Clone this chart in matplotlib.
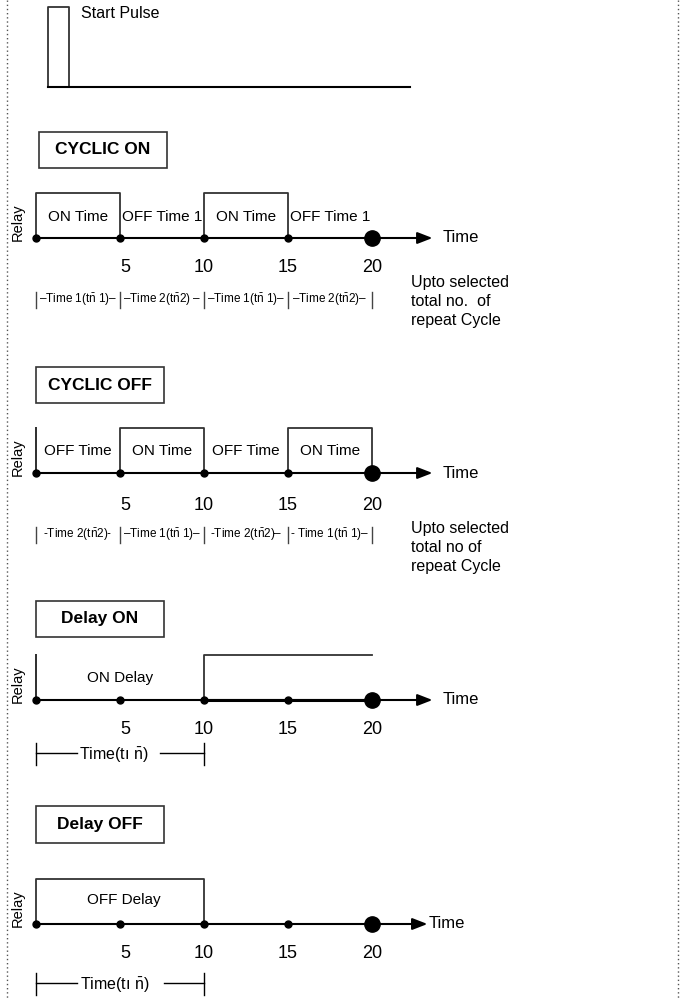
import matplotlib.pyplot as plt
from matplotlib.patches import Rectangle

plt.rcParams['font.family'] = ['Liberation Sans', 'DejaVu Sans']
plt.rcParams['mathtext.fontset'] = 'custom'
plt.rcParams['mathtext.rm'] = 'Liberation Sans'
plt.rcParams['mathtext.default'] = 'regular'

W, H = 692, 1000
PX_PER_T = 16.8      # pixels per time unit
PX_PER_LEVEL = 45.0  # pixels per relay level
T0_PX = 36           # pixel position of t = 0

ticks = [0, 5, 10, 15, 20]
tick_labels = ['', '5', '10', '15', '20']
NB = r'$\bar{n}$'

# relay waveforms (time, level)
cyclic_on_t = [0, 0, 5, 5, 10, 10, 15, 15, 20]
cyclic_on_y = [0, 1, 1, 0, 0, 1, 1, 0, 0]
cyclic_on_labels = ['ON Time', 'OFF Time 1', 'ON Time', 'OFF Time 1']
cyclic_on_spans = ['\u2013Time 1(t' + NB + ' 1)\u2013', '\u2013Time 2(t' + NB + '2) \u2013',
                   '\u2013Time 1(t' + NB + ' 1)\u2013', '\u2013Time 2(t' + NB + '2)\u2013']

cyclic_off_t = [0, 0, 0, 5, 5, 10, 10, 15, 15, 20, 20]
cyclic_off_y = [0, 1, 0, 0, 1, 1, 0, 0, 1, 1, 0]
cyclic_off_labels = ['OFF Time', 'ON Time', 'OFF Time', 'ON Time']
cyclic_off_spans = ['-Time 2(t' + NB + '2)-', '\u2013Time 1(t' + NB + ' 1)\u2013',
                    '-Time 2(t' + NB + '2)\u2013', '- Time 1(t' + NB + ' 1)\u2013']

delay_on_t = [0, 0, 0, 10, 10, 20]
delay_on_y = [0, 1, 0, 0, 1, 1]

delay_off_t = [0, 0, 10, 10]
delay_off_y = [0, 1, 1, 0]

start_t = [0.7, 0.7, 1.96, 1.96]
start_y = [0, 1.78, 1.78, 0]

fig = plt.figure(figsize=(W / 100, H / 100), dpi=100)

# dotted page border
border = fig.add_axes([0, 0, 1, 1])
border.set_xlim(0, W)
border.set_ylim(H, 0)
border.axis('off')
border.plot([7, 7], [0, H], color='#555555', lw=1, ls=(0, (1, 2)))
border.plot([678, 678], [0, H], color='#555555', lw=1, ls=(0, (1, 2)))


def panel(base_px):
    span = 130
    ax = fig.add_axes([0, 1 - (base_px + span) / H, 1, 2 * span / H])
    ax.set_xlim(-T0_PX / PX_PER_T, (W - T0_PX) / PX_PER_T)
    ax.set_ylim(-span / PX_PER_LEVEL, span / PX_PER_LEVEL)
    ax.axis('off')
    ax.patch.set_alpha(0)
    return ax


def up(px):
    # pixel offset above the time axis -> level units
    return px / PX_PER_LEVEL


def time_axis(ax, arrow_end=23.6, text_gap=0.6, tick_y=29):
    ax.annotate('', xy=(arrow_end, 0), xytext=(0, 0),
                arrowprops=dict(arrowstyle='-|>,head_length=0.9,head_width=0.35',
                                color='black', lw=1.5, shrinkA=0, shrinkB=0))
    ax.text(arrow_end + text_gap, 0, 'Time', fontsize=12, va='center', ha='left')
    ax.plot(ticks[:-1], [0] * 4, 'o', color='black', ms=5)
    ax.plot(ticks[-1:], [0], 'o', color='black', ms=11)
    for t, lab in zip(ticks, tick_labels):
        ax.text(t + (0.3 if t == 5 else 0), up(-tick_y), lab, fontsize=13,
                ha='center', va='center')
    ax.text(-1.07, up(16), 'Relay', rotation=90, fontsize=10.5,
            ha='center', va='center')


def title_box(ax, label, x0, top_px, bot_px):
    y0, y1 = up(bot_px), up(top_px)
    ax.add_patch(Rectangle((x0, y0), 128 / PX_PER_T, y1 - y0, fill=False,
                           ec='#333333', lw=1.2))
    ax.text(x0 + 64 / PX_PER_T, (y0 + y1) / 2, label, fontsize=12.5, fontweight='bold',
            ha='center', va='center')


def brackets(ax, spans, y_px):
    for t in ticks:
        ax.plot([t, t], [up(y_px + 8), up(y_px - 8)], color='#444444', lw=1)
    for i, lab in enumerate(spans):
        ax.text(2.5 + 5 * i, up(y_px), lab, fontsize=8.5, ha='center', va='center')


def upto(ax, lines, y_px):
    for i, line in enumerate(lines):
        ax.text(22.3, up(y_px - 19 * i), line, fontsize=11.5, ha='left', va='center')


def delay_bracket(ax, y_px, x_text, gap):
    ax.plot([0, 0], [up(y_px + 10), up(y_px - 12)], color='black', lw=1)
    ax.plot([10, 10], [up(y_px + 10), up(y_px - 12)], color='black', lw=1)
    ax.plot([0, 2.44], [up(y_px), up(y_px)], color='black', lw=1)
    ax.plot([gap, 10], [up(y_px), up(y_px)], color='black', lw=1)
    ax.text(x_text, up(y_px - 2), 'Time(t\u0131 ' + NB + ')', fontsize=11.5,
            ha='center', va='center')


# start pulse
ax = panel(87)
ax.plot(start_t, start_y, color='#333333', lw=1.3)
ax.plot([0.7, 22.26], [0, 0], color='black', lw=1.5)
ax.text(2.7, up(73), 'Start Pulse', fontsize=11.5, ha='left', va='center')

# cyclic on
ax = panel(238)
title_box(ax, 'CYCLIC ON', 0.18, 106, 70)
ax.plot(cyclic_on_t, cyclic_on_y, color='#333333', lw=1.3)
time_axis(ax)
for i, lab in enumerate(cyclic_on_labels):
    ax.text(2.5 + 5 * i, up(21), lab, fontsize=11, ha='center', va='center')
brackets(ax, cyclic_on_spans, -62)
upto(ax, ['Upto selected', 'total no.  of', 'repeat Cycle'], -44)

# cyclic off
ax = panel(473)
title_box(ax, 'CYCLIC OFF', 0, 106, 70)
ax.plot(cyclic_off_t, cyclic_off_y, color='#333333', lw=1.3)
time_axis(ax, tick_y=32)
for i, lab in enumerate(cyclic_off_labels):
    ax.text(2.5 + 5 * i, up(22), lab, fontsize=11, ha='center', va='center')
brackets(ax, cyclic_off_spans, -62)
upto(ax, ['Upto selected', 'total no of', 'repeat Cycle'], -55)

# delay on
ax = panel(700)
title_box(ax, 'Delay ON', 0, 99, 63)
ax.plot(delay_on_t, delay_on_y, color='#333333', lw=1.3)
ax.plot([10, 20], [0, 0], color='black', lw=2.2)
time_axis(ax, tick_y=30)
ax.text(5, up(22), 'ON Delay', fontsize=11, ha='center', va='center')
delay_bracket(ax, -53, 4.6, 7.4)

# delay off
ax = panel(924)
title_box(ax, 'Delay OFF', 0, 118, 81)
ax.plot(delay_off_t, delay_off_y, color='#333333', lw=1.3)
time_axis(ax, arrow_end=23.3, text_gap=0.1, tick_y=29)
ax.text(5.2, up(24), 'OFF Delay', fontsize=11, ha='center', va='center')
delay_bracket(ax, -59, 4.7, 7.6)

fig.savefig('out.png', dpi=100)
